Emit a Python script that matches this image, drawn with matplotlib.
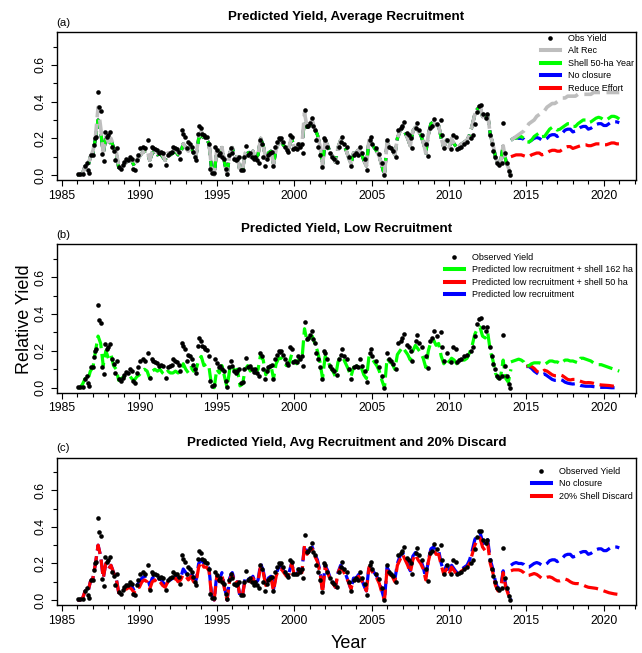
import numpy as np
import matplotlib
matplotlib.use("Agg")
import matplotlib.pyplot as plt
from matplotlib.ticker import MultipleLocator
from matplotlib.lines import Line2D

plt.rcParams['font.family'] = ['Liberation Sans', 'DejaVu Sans']

# ---------------- observed yield (decimal year, relative yield) ----------------
obs_year = [
    1986.01, 1986.18, 1986.35, 1986.50, 1986.61, 1986.65, 1986.76, 1986.87, 1987.00, 1987.04,
    1987.12, 1987.21, 1987.30, 1987.40, 1987.53, 1987.60, 1987.70, 1987.79, 1987.90, 1988.00,
    1988.11, 1988.24, 1988.33, 1988.45, 1988.54, 1988.67, 1988.80, 1988.93, 1989.03, 1989.14,
    1989.27, 1989.40, 1989.51, 1989.61, 1989.72, 1989.83, 1989.91, 1990.04, 1990.21, 1990.36,
    1990.54, 1990.69, 1990.79, 1990.90, 1991.03, 1991.16, 1991.29, 1991.42, 1991.55, 1991.70,
    1991.82, 1991.97, 1992.08, 1992.19, 1992.30, 1992.40, 1992.53, 1992.64, 1992.73, 1992.81,
    1992.92, 1993.05, 1993.15, 1993.26, 1993.37, 1993.48, 1993.61, 1993.69, 1993.78, 1993.84,
    1993.95, 1994.06, 1994.16, 1994.27, 1994.38, 1994.48, 1994.57, 1994.68, 1994.79, 1994.91,
    1995.02, 1995.13, 1995.24, 1995.34, 1995.47, 1995.58, 1995.69, 1995.79, 1995.90, 1996.01,
    1996.12, 1996.22, 1996.33, 1996.44, 1996.57, 1996.67, 1996.78, 1996.91, 1997.02, 1997.12,
    1997.25, 1997.38, 1997.49, 1997.60, 1997.70, 1997.79, 1997.90, 1998.00, 1998.11, 1998.22,
    1998.33, 1998.43, 1998.54, 1998.63, 1998.76, 1998.86, 1999.00, 1999.08, 1999.18, 1999.29,
    1999.40, 1999.51, 1999.61, 1999.72, 1999.83, 1999.94, 2000.04, 2000.15, 2000.26, 2000.39,
    2000.49, 2000.60, 2000.72, 2000.82, 2000.92, 2001.01, 2001.12, 2001.22, 2001.33, 2001.44,
    2001.57, 2001.67, 2001.80, 2001.90, 2002.00, 2002.13, 2002.30, 2002.45, 2002.56, 2002.74,
    2002.89, 2003.00, 2003.10, 2003.25, 2003.43, 2003.55, 2003.69, 2003.86, 2004.00, 2004.10,
    2004.25, 2004.40, 2004.55, 2004.72, 2004.89, 2004.95, 2005.04, 2005.26, 2005.47, 2005.65,
    2005.80, 2005.97, 2006.12, 2006.27, 2006.40, 2006.55, 2006.70, 2006.88, 2006.98, 2007.09,
    2007.26, 2007.41, 2007.52, 2007.63, 2007.84, 2007.95, 2008.06, 2008.28, 2008.49, 2008.64,
    2008.77, 2008.90, 2009.03, 2009.20, 2009.46, 2009.57, 2009.68, 2009.89, 2010.11, 2010.28,
    2010.43, 2010.54, 2010.65, 2010.75, 2010.97, 2011.19, 2011.40, 2011.57, 2011.66, 2011.79,
    2011.94, 2012.05, 2012.20, 2012.37, 2012.48, 2012.63, 2012.80, 2012.87, 2012.95, 2013.08,
    2013.23, 2013.45, 2013.49, 2013.60, 2013.73, 2013.88, 2013.94,
]
obs_value = [
    0.005, 0.004, 0.005, 0.050, 0.065, 0.027, 0.010, 0.110, 0.110, 0.165,
    0.200, 0.210, 0.450, 0.370, 0.350, 0.115, 0.075, 0.235, 0.210, 0.220,
    0.235, 0.155, 0.130, 0.080, 0.145, 0.045, 0.035, 0.055, 0.070, 0.085,
    0.080, 0.100, 0.090, 0.035, 0.027, 0.080, 0.110, 0.145, 0.155, 0.145,
    0.190, 0.055, 0.155, 0.145, 0.140, 0.135, 0.120, 0.125, 0.120, 0.055,
    0.110, 0.120, 0.125, 0.155, 0.145, 0.140, 0.125, 0.090, 0.245, 0.225,
    0.210, 0.145, 0.180, 0.170, 0.155, 0.125, 0.100, 0.080, 0.225, 0.270,
    0.255, 0.225, 0.220, 0.210, 0.205, 0.170, 0.035, 0.010, 0.013, 0.155,
    0.135, 0.110, 0.120, 0.100, 0.090, 0.035, 0.005, 0.110, 0.145, 0.120,
    0.090, 0.080, 0.090, 0.100, 0.027, 0.030, 0.100, 0.160, 0.110, 0.120,
    0.100, 0.085, 0.100, 0.080, 0.065, 0.190, 0.170, 0.100, 0.050, 0.090,
    0.110, 0.120, 0.125, 0.050, 0.155, 0.180, 0.200, 0.195, 0.200, 0.180,
    0.155, 0.135, 0.125, 0.220, 0.210, 0.140, 0.145, 0.140, 0.170, 0.155,
    0.170, 0.120, 0.355, 0.265, 0.270, 0.285, 0.310, 0.265, 0.245, 0.190,
    0.155, 0.110, 0.045, 0.200, 0.190, 0.155, 0.120, 0.100, 0.090, 0.070,
    0.155, 0.180, 0.210, 0.170, 0.155, 0.100, 0.050, 0.110, 0.120, 0.110,
    0.155, 0.120, 0.090, 0.030, 0.190, 0.210, 0.170, 0.145, 0.115, 0.065,
    0.000, 0.190, 0.155, 0.145, 0.130, 0.100, 0.245, 0.255, 0.270, 0.290,
    0.230, 0.220, 0.200, 0.145, 0.255, 0.285, 0.245, 0.220, 0.170, 0.105,
    0.255, 0.270, 0.305, 0.280, 0.300, 0.220, 0.145, 0.190, 0.140, 0.220,
    0.210, 0.140, 0.150, 0.155, 0.170, 0.180, 0.200, 0.220, 0.280, 0.345,
    0.375, 0.380, 0.330, 0.310, 0.330, 0.220, 0.170, 0.130, 0.100, 0.065,
    0.055, 0.065, 0.285, 0.120, 0.065, 0.020, 0.000,
]

# ---------------- historical model fits, every 2 months from 1986.0 to 2014.0 ----------------
hist_t = 1986.0 + np.arange(169) / 6.0

# panel (a) "Alt Rec" history (grey)
hist_alt = [
    0.00, 0.00, 0.01, 0.05, 0.04, 0.10,
    0.13, 0.21, 0.37, 0.26, 0.13, 0.21,
    0.18, 0.20, 0.16, 0.13, 0.05, 0.04,
    0.06, 0.07, 0.08, 0.09, 0.05, 0.08,
    0.10, 0.12, 0.13, 0.14, 0.08, 0.13,
    0.14, 0.12, 0.13, 0.11, 0.08, 0.12,
    0.12, 0.13, 0.14, 0.12, 0.13, 0.17,
    0.15, 0.13, 0.16, 0.12, 0.11, 0.21,
    0.24, 0.21, 0.20, 0.18, 0.03, 0.00,
    0.14, 0.11, 0.15, 0.07, 0.00, 0.12,
    0.15, 0.10, 0.10, 0.02, 0.03, 0.12,
    0.13, 0.10, 0.13, 0.09, 0.11, 0.20,
    0.16, 0.09, 0.12, 0.13, 0.06, 0.14,
    0.18, 0.18, 0.16, 0.14, 0.15, 0.21,
    0.15, 0.14, 0.17, 0.16, 0.34, 0.26,
    0.28, 0.30, 0.25, 0.22, 0.16, 0.05,
    0.19, 0.16, 0.12, 0.10, 0.07, 0.15,
    0.19, 0.17, 0.14, 0.10, 0.06, 0.12,
    0.12, 0.14, 0.12, 0.08, 0.05, 0.19,
    0.17, 0.15, 0.13, 0.10, 0.05, 0.00,
    0.18, 0.15, 0.14, 0.11, 0.20, 0.24,
    0.27, 0.23, 0.20, 0.16, 0.24, 0.26,
    0.24, 0.22, 0.18, 0.12, 0.22, 0.28,
    0.29, 0.27, 0.27, 0.20, 0.15, 0.19,
    0.15, 0.20, 0.17, 0.15, 0.16, 0.17,
    0.18, 0.19, 0.22, 0.27, 0.33, 0.36,
    0.38, 0.32, 0.30, 0.33, 0.22, 0.17,
    0.10, 0.06, 0.07, 0.16, 0.08, 0.04,
    0.00,
]

# panel (a) shell / no closure / reduce effort history, also "No closure" in panel (c)
hist_avg = [
    0.00, 0.00, 0.01, 0.05, 0.04, 0.10,
    0.12, 0.20, 0.30, 0.24, 0.12, 0.20,
    0.17, 0.19, 0.15, 0.12, 0.04, 0.04,
    0.06, 0.07, 0.08, 0.08, 0.05, 0.08,
    0.10, 0.12, 0.13, 0.13, 0.08, 0.12,
    0.13, 0.11, 0.12, 0.10, 0.08, 0.12,
    0.11, 0.12, 0.13, 0.11, 0.12, 0.17,
    0.15, 0.13, 0.15, 0.12, 0.11, 0.20,
    0.22, 0.20, 0.20, 0.17, 0.03, 0.00,
    0.14, 0.11, 0.15, 0.07, 0.00, 0.12,
    0.15, 0.10, 0.10, 0.02, 0.03, 0.12,
    0.13, 0.10, 0.13, 0.09, 0.11, 0.20,
    0.16, 0.09, 0.12, 0.13, 0.06, 0.14,
    0.18, 0.18, 0.16, 0.14, 0.15, 0.20,
    0.15, 0.14, 0.17, 0.16, 0.30, 0.26,
    0.27, 0.29, 0.25, 0.22, 0.16, 0.05,
    0.19, 0.16, 0.12, 0.10, 0.07, 0.15,
    0.19, 0.17, 0.14, 0.10, 0.06, 0.12,
    0.12, 0.14, 0.12, 0.08, 0.05, 0.19,
    0.17, 0.15, 0.13, 0.10, 0.05, 0.00,
    0.18, 0.15, 0.14, 0.11, 0.20, 0.24,
    0.26, 0.23, 0.20, 0.16, 0.24, 0.26,
    0.24, 0.22, 0.18, 0.12, 0.22, 0.28,
    0.29, 0.27, 0.27, 0.20, 0.15, 0.19,
    0.15, 0.19, 0.17, 0.15, 0.16, 0.17,
    0.18, 0.19, 0.22, 0.27, 0.33, 0.36,
    0.37, 0.32, 0.30, 0.33, 0.22, 0.17,
    0.10, 0.06, 0.07, 0.16, 0.08, 0.04,
    0.00,
]

# panel (b) low-recruitment history (green)
hist_low = [
    0.00, 0.00, 0.02, 0.05, 0.04, 0.09,
    0.11, 0.20, 0.28, 0.24, 0.12, 0.20,
    0.16, 0.18, 0.12, 0.10, 0.04, 0.05,
    0.06, 0.06, 0.07, 0.05, 0.04, 0.06,
    0.07, 0.09, 0.10, 0.09, 0.05, 0.09,
    0.10, 0.09, 0.10, 0.08, 0.07, 0.09,
    0.08, 0.08, 0.09, 0.08, 0.09, 0.13,
    0.10, 0.08, 0.11, 0.09, 0.10, 0.15,
    0.17, 0.12, 0.13, 0.11, 0.01, 0.00,
    0.10, 0.08, 0.12, 0.06, 0.00, 0.10,
    0.12, 0.09, 0.10, 0.01, 0.02, 0.10,
    0.12, 0.09, 0.12, 0.08, 0.10, 0.18,
    0.15, 0.07, 0.10, 0.12, 0.05, 0.13,
    0.16, 0.16, 0.14, 0.12, 0.13, 0.18,
    0.14, 0.13, 0.16, 0.15, 0.32, 0.25,
    0.27, 0.28, 0.24, 0.20, 0.14, 0.05,
    0.17, 0.15, 0.11, 0.09, 0.06, 0.14,
    0.17, 0.16, 0.13, 0.10, 0.06, 0.11,
    0.11, 0.13, 0.11, 0.07, 0.05, 0.17,
    0.16, 0.14, 0.12, 0.09, 0.04, 0.00,
    0.16, 0.14, 0.13, 0.10, 0.18, 0.20,
    0.22, 0.20, 0.18, 0.15, 0.20, 0.23,
    0.21, 0.19, 0.16, 0.11, 0.20, 0.25,
    0.26, 0.23, 0.24, 0.17, 0.13, 0.16,
    0.14, 0.16, 0.15, 0.13, 0.14, 0.15,
    0.15, 0.16, 0.19, 0.23, 0.29, 0.32,
    0.33, 0.28, 0.27, 0.30, 0.20, 0.15,
    0.08, 0.05, 0.06, 0.15, 0.05, 0.03,
    0.10,
]

# panel (c) 20% shell discard history (red)
hist_discard = [
    0.00, 0.00, 0.01, 0.05, 0.04, 0.10,
    0.12, 0.20, 0.30, 0.24, 0.12, 0.20,
    0.17, 0.19, 0.15, 0.12, 0.04, 0.04,
    0.06, 0.06, 0.07, 0.06, 0.04, 0.07,
    0.07, 0.10, 0.11, 0.10, 0.06, 0.10,
    0.11, 0.09, 0.10, 0.08, 0.07, 0.10,
    0.10, 0.11, 0.12, 0.10, 0.11, 0.14,
    0.13, 0.11, 0.13, 0.10, 0.10, 0.18,
    0.21, 0.18, 0.18, 0.16, 0.02, 0.00,
    0.13, 0.10, 0.14, 0.06, 0.00, 0.11,
    0.14, 0.09, 0.10, 0.02, 0.03, 0.11,
    0.12, 0.10, 0.12, 0.09, 0.10, 0.19,
    0.15, 0.08, 0.11, 0.12, 0.05, 0.13,
    0.17, 0.17, 0.15, 0.13, 0.14, 0.20,
    0.14, 0.13, 0.16, 0.15, 0.30, 0.25,
    0.27, 0.28, 0.24, 0.21, 0.15, 0.04,
    0.18, 0.15, 0.11, 0.09, 0.07, 0.15,
    0.18, 0.16, 0.13, 0.10, 0.06, 0.11,
    0.11, 0.13, 0.11, 0.08, 0.05, 0.18,
    0.16, 0.14, 0.12, 0.09, 0.04, 0.00,
    0.17, 0.14, 0.13, 0.10, 0.19, 0.22,
    0.25, 0.22, 0.19, 0.15, 0.22, 0.25,
    0.22, 0.20, 0.17, 0.11, 0.21, 0.27,
    0.28, 0.25, 0.25, 0.19, 0.14, 0.17,
    0.14, 0.18, 0.16, 0.14, 0.15, 0.16,
    0.17, 0.18, 0.20, 0.25, 0.30, 0.33,
    0.34, 0.29, 0.27, 0.31, 0.20, 0.15,
    0.08, 0.05, 0.06, 0.15, 0.07, 0.03,
    0.00,
]

# ---------------- projections, every 2 months ----------------
proj_t = 2014.0 + np.arange(43) / 6.0        # 2014.0 .. 2021.0
proj_t15 = 2015.0 + np.arange(37) / 6.0      # 2015.0 .. 2021.0

proj_alt = [
    0.19, 0.20, 0.21, 0.22, 0.23, 0.24,
    0.26, 0.28, 0.29, 0.30, 0.32, 0.33,
    0.34, 0.35, 0.37, 0.38, 0.39, 0.39,
    0.40, 0.41, 0.42, 0.42, 0.43, 0.43,
    0.43, 0.43, 0.44, 0.44, 0.44, 0.44,
    0.44, 0.44, 0.45, 0.45, 0.45, 0.45,
    0.45, 0.45, 0.45, 0.45, 0.45, 0.45,
    0.45,
]
proj_shell50 = [
    0.19, 0.20, 0.20, 0.21, 0.21, 0.20,
    0.18, 0.18, 0.19, 0.21, 0.22, 0.23,
    0.21, 0.21, 0.23, 0.25, 0.26, 0.26,
    0.245, 0.25, 0.26, 0.27, 0.28, 0.28,
    0.265, 0.265, 0.28, 0.29, 0.30, 0.30,
    0.285, 0.29, 0.30, 0.31, 0.315, 0.31,
    0.30, 0.30, 0.31, 0.32, 0.32, 0.315,
    0.305,
]
proj_noclosure = [
    0.19, 0.20, 0.205, 0.20, 0.20, 0.195,
    0.18, 0.18, 0.19, 0.20, 0.205, 0.20,
    0.19, 0.19, 0.20, 0.215, 0.22, 0.22,
    0.21, 0.22, 0.23, 0.245, 0.25, 0.25,
    0.235, 0.24, 0.25, 0.26, 0.265, 0.265,
    0.25, 0.255, 0.265, 0.275, 0.28, 0.28,
    0.27, 0.27, 0.28, 0.29, 0.29, 0.29,
    0.285,
]
proj_reduce = [
    0.10, 0.105, 0.11, 0.11, 0.11, 0.105,
    0.10, 0.10, 0.11, 0.115, 0.12, 0.12,
    0.11, 0.115, 0.12, 0.13, 0.135, 0.135,
    0.13, 0.13, 0.14, 0.15, 0.155, 0.155,
    0.145, 0.15, 0.155, 0.16, 0.165, 0.165,
    0.16, 0.16, 0.165, 0.17, 0.17, 0.17,
    0.165, 0.165, 0.17, 0.175, 0.175, 0.17,
    0.17,
]
proj_low162 = [
    0.14, 0.145, 0.15, 0.155, 0.15, 0.14,
    0.115, 0.12, 0.13, 0.135, 0.135, 0.135,
    0.13, 0.125, 0.135, 0.145, 0.145, 0.14,
    0.14, 0.13, 0.14, 0.15, 0.15, 0.145,
    0.145, 0.14, 0.135, 0.16, 0.16, 0.155,
    0.15, 0.145, 0.135, 0.13, 0.125, 0.125,
    0.12, 0.115, 0.11, 0.105, 0.10, 0.095,
    0.09,
]
proj_low50 = [
    0.115, 0.12, 0.115, 0.105, 0.09, 0.08,
    0.085, 0.095, 0.09, 0.08, 0.07, 0.065,
    0.065, 0.07, 0.065, 0.055, 0.045, 0.042,
    0.045, 0.045, 0.04, 0.035, 0.03, 0.027,
    0.028, 0.027, 0.024, 0.02, 0.017, 0.015,
    0.014, 0.013, 0.012, 0.01, 0.008, 0.007,
    0.006,
]
proj_low = [
    0.115, 0.115, 0.105, 0.09, 0.08, 0.07,
    0.07, 0.075, 0.065, 0.055, 0.045, 0.04,
    0.04, 0.045, 0.04, 0.03, 0.025, 0.022,
    0.02, 0.022, 0.018, 0.012, 0.01, 0.008,
    0.008, 0.008, 0.006, 0.004, 0.003, 0.002,
    0.002, 0.002, 0.001, 0.0, 0.0, 0.0,
    0.0,
]
proj_discard = [
    0.16, 0.165, 0.165, 0.165, 0.16, 0.15,
    0.133, 0.135, 0.14, 0.145, 0.14, 0.13,
    0.118, 0.12, 0.125, 0.127, 0.122, 0.112,
    0.105, 0.105, 0.11, 0.115, 0.11, 0.10,
    0.093, 0.09, 0.09, 0.087, 0.082, 0.075,
    0.07, 0.068, 0.066, 0.064, 0.06, 0.055,
    0.05, 0.045, 0.04, 0.037, 0.034, 0.032,
    0.03,
]

titles = ["Predicted Yield, Average Recruitment",
          "Predicted Yield, Low Recruitment",
          "Predicted Yield, Avg Recruitment and 20% Discard"]
panel_tags = ["(a)", "(b)", "(c)"]

GREY = "#BEBEBE"
GREEN = "#00FF00"
BLUE = "#0000FF"
RED = "#FF0000"
DASH = (4.5, 1.8)
LW = 2.3

W, H = 642, 653
fig = plt.figure(figsize=(W / 100, H / 100), dpi=100)

def px_axes(left, top, right, bottom):
    return fig.add_axes([left / W, 1 - bottom / H, (right - left) / W, (bottom - top) / H])

axA = px_axes(56.7, 32.3, 636, 180)
axB = px_axes(56.7, 244.3, 636, 392.7)
axC = px_axes(56.7, 457.7, 636, 605)

def dline(ax, x, y, color, label=None, lw=LW):
    ln, = ax.plot(x, y, color=color, lw=lw, label=label, solid_capstyle='butt',
                  dash_capstyle='butt')
    ln.set_dashes(DASH)
    return ln

def pts(ax, label):
    return ax.plot(obs_year, obs_value, 'o', color='black', ms=3.3, mec='black',
                   mew=0, label=label, zorder=5)[0]

def lh(color, label):
    return Line2D([], [], color=color, lw=LW + 0.6, label=label)

# ---- panel (a)
dline(axA, hist_t, hist_avg, RED)
dline(axA, proj_t, proj_reduce, RED)
dline(axA, hist_t, hist_avg, BLUE)
dline(axA, proj_t, proj_noclosure, BLUE)
dline(axA, hist_t, hist_avg, GREEN)
dline(axA, proj_t, proj_shell50, GREEN)
dline(axA, hist_t, hist_alt, GREY, lw=2.6)
dline(axA, proj_t, proj_alt, GREY, lw=2.6)
hA = [pts(axA, "Obs Yield"), lh(GREY, "Alt Rec"), lh(GREEN, "Shell 50-ha Year"),
      lh(BLUE, "No closure"), lh(RED, "Reduce Effort")]

# ---- panel (b)
dline(axB, proj_t15, proj_low, BLUE)
dline(axB, proj_t15, proj_low50, RED)
dline(axB, hist_t, hist_low, GREEN)
dline(axB, proj_t, proj_low162, GREEN)
hB = [pts(axB, "Observed Yield"),
      lh(GREEN, "Predicted low recruitment + shell 162 ha"),
      lh(RED, "Predicted low recruitment + shell 50 ha"),
      lh(BLUE, "Predicted low recruitment")]

# ---- panel (c)
dline(axC, hist_t, hist_avg, BLUE)
dline(axC, proj_t, proj_noclosure, BLUE)
dline(axC, hist_t, hist_discard, RED)
dline(axC, proj_t, proj_discard, RED)
hC = [pts(axC, "Observed Yield"), lh(BLUE, "No closure"), lh(RED, "20% Shell Discard")]

# (axes, handles, left px, top px)
legend_specs = [
    (axA, hA, 541, 34.0),
    (axB, hB, 445, 253.0),
    (axC, hC, 532, 467.0),
]

for ax, title, tag in zip([axA, axB, axC], titles, panel_tags):
    ax.set_xlim(1984.66, 2022.08)
    ax.set_ylim(-0.027, 0.778)
    ax.xaxis.set_major_locator(MultipleLocator(5))
    ax.xaxis.set_minor_locator(MultipleLocator(1))
    ax.yaxis.set_minor_locator(MultipleLocator(0.1))
    ax.set_yticks([0.0, 0.2, 0.4, 0.6])
    ax.set_yticklabels(["0.0", "0.2", "0.4", "0.6"], rotation=90, va='center')
    ax.tick_params(axis='both', which='major', labelsize=8.8, length=4.5, width=0.8,
                   direction='out', pad=2.5)
    ax.tick_params(axis='both', which='minor', length=3, width=0.8, direction='out')
    for s in ax.spines.values():
        s.set_linewidth(1.0)
    ax.set_title(title, fontsize=9.6, fontweight='bold', pad=8.5)
    ax.text(0.0, 1.03, tag, transform=ax.transAxes, fontsize=8.2, ha='left', va='bottom')

for ax, handles, lx, ly in legend_specs:
    ax.legend(handles=handles, loc='upper left', frameon=False,
              bbox_to_anchor=(lx / W, 1 - ly / H), bbox_transform=fig.transFigure,
              fontsize=6.5, handlelength=2.1, handletextpad=0.85, labelspacing=0.38,
              borderpad=0, borderaxespad=0, numpoints=1)

fig.text(25 / W, 1 - 319 / H, "Relative Yield", rotation=90, fontsize=13,
         ha='center', va='center')
fig.text(349 / W, 1 - 644 / H, "Year", fontsize=13, ha='center', va='center')

fig.savefig("out.png", dpi=100)
